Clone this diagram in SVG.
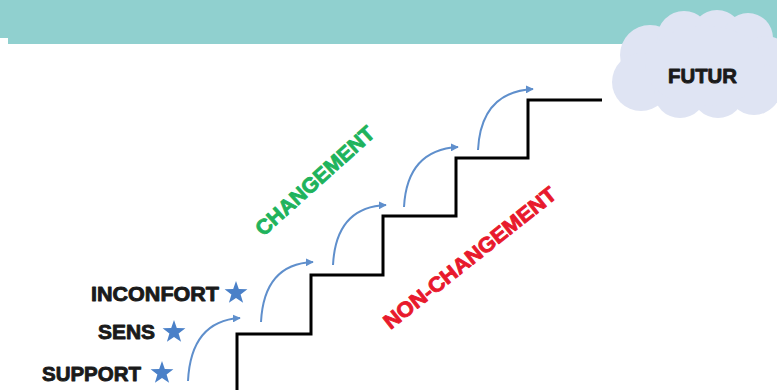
<svg xmlns="http://www.w3.org/2000/svg" width="777" height="390" viewBox="0 0 777 390">
<defs>
<style>
.lbl{font-family:"Liberation Sans",Arial,sans-serif;font-weight:bold;font-size:21px;fill:#1a1a1a;stroke:#1a1a1a;stroke-width:0.9;stroke-linejoin:round}
.step{fill:none;stroke:#000;stroke-width:3;stroke-linejoin:miter}
.arc{fill:none;stroke:#5f8fcc;stroke-width:2;marker-end:url(#ah)}
.star{fill:#4a80c8}
.cloud{fill:#dfe4f3}
.green{fill:#1fb35c;stroke:#1fb35c}
.red{fill:#e8192c;stroke:#e8192c}
</style>
<marker id="ah" viewBox="0 0 10 10" refX="9" refY="5" markerWidth="8" markerHeight="8" markerUnits="userSpaceOnUse" orient="auto">
<path d="M0 0 L10 5 L0 10 z" fill="#5f8fcc"/>
</marker>
<path id="starShape" d="M0,-12 L2.8,-3.9 L11.4,-3.7 L4.6,1.5 L7.1,9.8 L0,4.9 L-7.1,9.8 L-4.6,1.5 L-11.4,-3.7 L-2.8,-3.9 Z"/>
</defs>
<rect width="777" height="390" fill="#fff"/>
<g id="header">
<rect x="8" y="0" width="769" height="44" fill="#90d0cf"/>
<rect x="0" y="0" width="8" height="38" fill="#90d0cf"/>
</g>
<g id="futur">
<g class="cloud">
<circle cx="650" cy="55" r="30"/>
<circle cx="684" cy="38" r="27"/>
<circle cx="717" cy="36" r="26"/>
<circle cx="748" cy="38" r="25"/>
<circle cx="766" cy="62" r="26"/>
<circle cx="641" cy="82" r="29"/>
<circle cx="680" cy="92" r="26"/>
<circle cx="718" cy="92" r="26"/>
<circle cx="754" cy="88" r="27"/>
<ellipse cx="705" cy="66" rx="60" ry="40"/>
</g>
<text class="lbl" x="668" y="83" textLength="69" lengthAdjust="spacingAndGlyphs" font-size="20">FUTUR</text>
</g>
<g id="stairs">
<path class="step" d="M237 392 V334 H311 V275 H383 V216 H456 V158 H528 V100 H602"/>
</g>
<g id="connectors">
<path class="arc" d="M188 381 Q191 321 240 318"/>
<path class="arc" d="M261 322 Q264 264 313 262"/>
<path class="arc" d="M333 265 Q336 207 386 205"/>
<path class="arc" d="M404 207 Q407 150 458 147"/>
<path class="arc" d="M478 150 Q481 92 533 89"/>
</g>
<g id="inconfort">
<text class="lbl" x="91" y="301" textLength="128" lengthAdjust="spacingAndGlyphs">INCONFORT</text>
<use href="#starShape" class="star" x="236" y="293"/>
</g>
<g id="sens">
<text class="lbl" x="98" y="339" textLength="57" lengthAdjust="spacingAndGlyphs">SENS</text>
<use href="#starShape" class="star" x="174" y="332"/>
</g>
<g id="support">
<text class="lbl" x="42" y="381" textLength="99" lengthAdjust="spacingAndGlyphs">SUPPORT</text>
<use href="#starShape" class="star" x="162" y="373"/>
</g>
<g id="changement">
<text class="lbl green" x="-76" y="7" textLength="152" lengthAdjust="spacingAndGlyphs" transform="translate(315,181) rotate(-42)">CHANGEMENT</text>
</g>
<g id="non-changement">
<text class="lbl red" x="-107" y="7" textLength="214" lengthAdjust="spacingAndGlyphs" transform="translate(470,258) rotate(-38.5)">NON-CHANGEMENT</text>
</g>
</svg>
